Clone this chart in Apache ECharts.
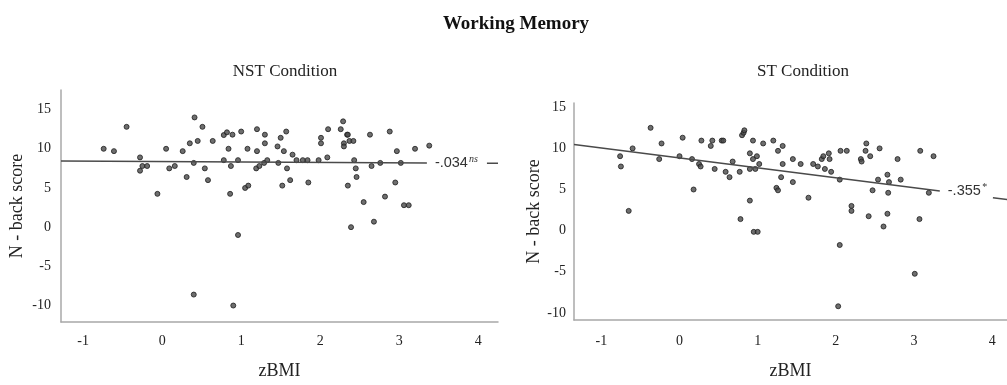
<!DOCTYPE html>
<html>
<head>
<meta charset="utf-8">
<script src="https://cdn.jsdelivr.net/npm/echarts@6/dist/echarts.min.js"></script>
<style>
html,body{margin:0;padding:0;background:#fff;}
#chart{width:1007px;height:385px;}
</style>
</head>
<body>
<div id="chart"></div>
<script>
// ---- data ----
const mainTitle = 'Working Memory';
const panelTitles = ['NST Condition', 'ST Condition'];
const xTicks = [-1, 0, 1, 2, 3, 4];
const yTicks = [-10, -5, 0, 5, 10, 15];

// NST condition: [zBMI, N-back score]
const nstData = [
  [-0.74,10.0],[-0.61,9.7],[-0.45,12.8],[-0.28,8.9],[-0.25,7.8],[-0.19,7.8],[-0.28,7.2],[-0.06,4.25],
  [0.05,10.0],[0.09,7.5],[0.16,7.8],[0.26,9.7],[0.31,6.4],[0.35,10.7],[0.41,14.0],[0.40,8.2],
  [0.45,11.0],[0.51,12.8],[0.54,7.5],[0.58,6.0],[0.64,11.0],[0.78,11.75],[0.82,12.1],[0.89,11.8],
  [1.0,12.2],[0.84,10.0],[0.78,8.55],[0.87,7.8],[0.96,8.55],[0.86,4.25],[0.96,-1.0],[1.05,5.0],
  [1.09,5.3],[1.08,10.0],[1.2,12.5],[1.2,9.7],[1.19,7.5],[1.23,7.8],[1.30,11.8],[1.30,10.7],
  [1.29,8.2],[1.33,8.55],[1.46,10.3],[1.50,11.4],[1.57,12.2],[1.54,9.7],[1.47,8.2],[1.58,7.5],
  [1.52,5.3],[1.62,6.0],[1.65,9.25],[1.70,8.55],[1.78,8.55],[1.84,8.55],[1.85,5.7],
  [1.98,8.55],[2.01,11.4],[2.01,10.7],[2.10,12.5],[2.09,8.9],[2.26,12.5],[2.29,13.5],[2.30,10.7],
  [2.30,10.3],[2.34,11.8],[2.35,11.8],[2.37,11.0],[2.42,11.0],[2.43,8.55],[2.45,7.5],[2.46,6.4],
  [2.35,5.3],[2.39,0.0],[2.55,3.2],[2.63,11.8],[2.65,7.8],[2.68,0.7],[2.76,8.2],[2.82,3.9],
  [2.88,12.2],[2.95,5.7],[2.97,9.7],[3.02,8.2],[3.06,2.8],[3.12,2.8],[3.20,10.0],[3.38,10.4],
  [0.40,-8.6],[0.90,-10.0]
];

// ST condition: [zBMI, N-back score]
const stData = [
  [-0.76,9.05],[-0.75,7.8],[-0.65,2.4],[-0.60,10.0],[-0.37,12.5],[-0.26,8.7],[-0.23,10.6],[0.0,9.05],
  [0.04,11.3],[0.16,8.7],[0.18,5.0],[0.25,8.1],[0.27,7.8],[0.28,10.95],[0.40,10.3],[0.42,10.95],
  [0.45,7.5],[0.54,10.95],[0.56,10.95],[0.59,7.15],[0.64,6.5],[0.68,8.4],[0.77,7.15],[0.78,1.4],
  [0.80,11.6],[0.82,11.9],[0.83,12.2],[0.90,9.4],[0.90,7.5],[0.90,3.65],[0.94,10.95],[0.94,8.7],
  [0.99,9.05],[0.97,7.5],[0.95,-0.15],[1.0,-0.15],[1.02,8.1],[1.07,10.6],[1.20,10.95],[1.26,9.7],
  [1.32,10.3],[1.32,8.1],[1.30,6.5],[1.24,5.2],[1.26,4.9],
  [1.45,8.7],[1.45,5.9],[1.55,8.1],[1.65,4.0],[1.71,8.1],[1.77,7.8],[1.82,8.7],[1.84,9.05],
  [1.86,7.5],[1.91,9.4],[1.92,8.7],[1.94,7.15],[2.06,9.7],[2.14,9.7],[2.05,6.2],[2.20,3.0],
  [2.20,2.4],[2.32,8.7],[2.33,8.4],[2.38,9.7],[2.39,10.6],[2.44,9.05],[2.42,1.75],[2.47,4.9],
  [2.54,6.2],[2.56,10.0],[2.61,0.5],[2.66,6.8],[2.68,5.9],[2.67,4.6],[2.66,2.05],[2.79,8.7],
  [2.83,6.2],[3.08,9.7],[3.07,1.4],[3.25,9.05],[3.19,4.6],[2.05,-1.75],[3.01,-5.25],[2.03,-9.2]
];

// fit lines (drawn in two pieces, interrupted by the r label)
const nstFit = [[-1.28, 8.45], [3.35, 8.2]];
const nstFitTail = [[4.11, 8.16], [4.25, 8.15]];
const stFit = [[-1.35, 10.48], [3.33, 4.81]];
const stFitTail = [[4.01, 4.0], [4.22, 3.75]];
const rLabels = [['-.034', 'ns'], ['-.355', '*']];

// ---- chart ----
const FONT = "'Liberation Serif', 'DejaVu Serif', serif";
const SANS = "'Liberation Sans', Arial, sans-serif";
const TXT = '#222';
const AXIS = '#a8a8a8';

function xAxis(gi, min, max, margin, gap) {
  return {
    type: 'value', gridIndex: gi, min: min, max: max,
    axisLine: { show: true, onZero: false, lineStyle: { color: AXIS, width: 1.5 } },
    axisTick: { show: false }, splitLine: { show: false },
    axisLabel: { customValues: xTicks, margin: margin, fontFamily: FONT, fontSize: 14, color: TXT },
    name: 'zBMI', nameLocation: 'middle', nameGap: gap,
    nameTextStyle: { fontFamily: FONT, fontSize: 18, color: TXT }
  };
}
function yAxis(gi, min, max, margin, gap) {
  return {
    type: 'value', gridIndex: gi, min: min, max: max,
    axisLine: { show: true, onZero: false, lineStyle: { color: AXIS, width: 1.5 } },
    axisTick: { show: false }, splitLine: { show: false },
    axisLabel: { customValues: yTicks, margin: margin, fontFamily: FONT, fontSize: 14, color: TXT },
    name: 'N - back score', nameLocation: 'middle', nameGap: gap,
    nameTextStyle: { fontFamily: FONT, fontSize: 18, color: TXT }
  };
}
function scatter(gi, data) {
  return {
    type: 'scatter', xAxisIndex: gi, yAxisIndex: gi, data: data,
    symbol: 'circle', symbolSize: 5, silent: true,
    itemStyle: { color: '#4a4a4a', borderColor: '#1e1e1e', borderWidth: 1 }
  };
}
function fitLine(gi, pts, lab) {
  const s = {
    type: 'line', xAxisIndex: gi, yAxisIndex: gi, data: pts,
    symbol: 'none', silent: true, animation: false,
    lineStyle: { color: '#4a4a4a', width: 1.5 }
  };
  if (lab) {
    s.endLabel = {
      show: true, distance: 8,
      formatter: '{a|' + lab[0] + '}{b|' + lab[1] + '}',
      rich: {
        a: { fontFamily: SANS, fontSize: 14.5, color: '#333', lineHeight: 18 },
        b: { fontFamily: FONT, fontSize: 10, fontStyle: 'italic', color: '#333', verticalAlign: 'top', lineHeight: 18, padding: [0, 0, 6, 1] }
      }
    };
  }
  return s;
}

const chart = echarts.init(document.getElementById('chart'), null, { renderer: 'canvas' });
chart.setOption({
  animation: false,
  backgroundColor: '#fff',
  title: [
    { text: mainTitle, left: 511, top: 10, textAlign: 'center',
      textStyle: { fontFamily: FONT, fontSize: 19, fontWeight: 'bold', color: '#111' } },
    { text: panelTitles[0], left: 280, top: 58, textAlign: 'center',
      textStyle: { fontFamily: FONT, fontSize: 17, fontWeight: 'normal', color: TXT } },
    { text: panelTitles[1], left: 798, top: 58, textAlign: 'center',
      textStyle: { fontFamily: FONT, fontSize: 17, fontWeight: 'normal', color: TXT } }
  ],
  grid: [
    { left: 61, top: 90, width: 437, height: 237 },
    { left: 574, top: 103, width: 437, height: 222 }
  ],
  xAxis: [ xAxis(0, -1.28, 4.25, 12, 40), xAxis(1, -1.35, 4.19, 14, 42) ],
  yAxis: [ yAxis(0, -12.1, 17.5, 10, 35), yAxis(1, -10.87, 15.52, 8, 29) ],
  series: [
    scatter(0, nstData),
    fitLine(0, nstFit, rLabels[0]),
    fitLine(0, nstFitTail, null),
    scatter(1, stData),
    fitLine(1, stFit, rLabels[1]),
    fitLine(1, stFitTail, null)
  ]
});
</script>
</body>
</html>
